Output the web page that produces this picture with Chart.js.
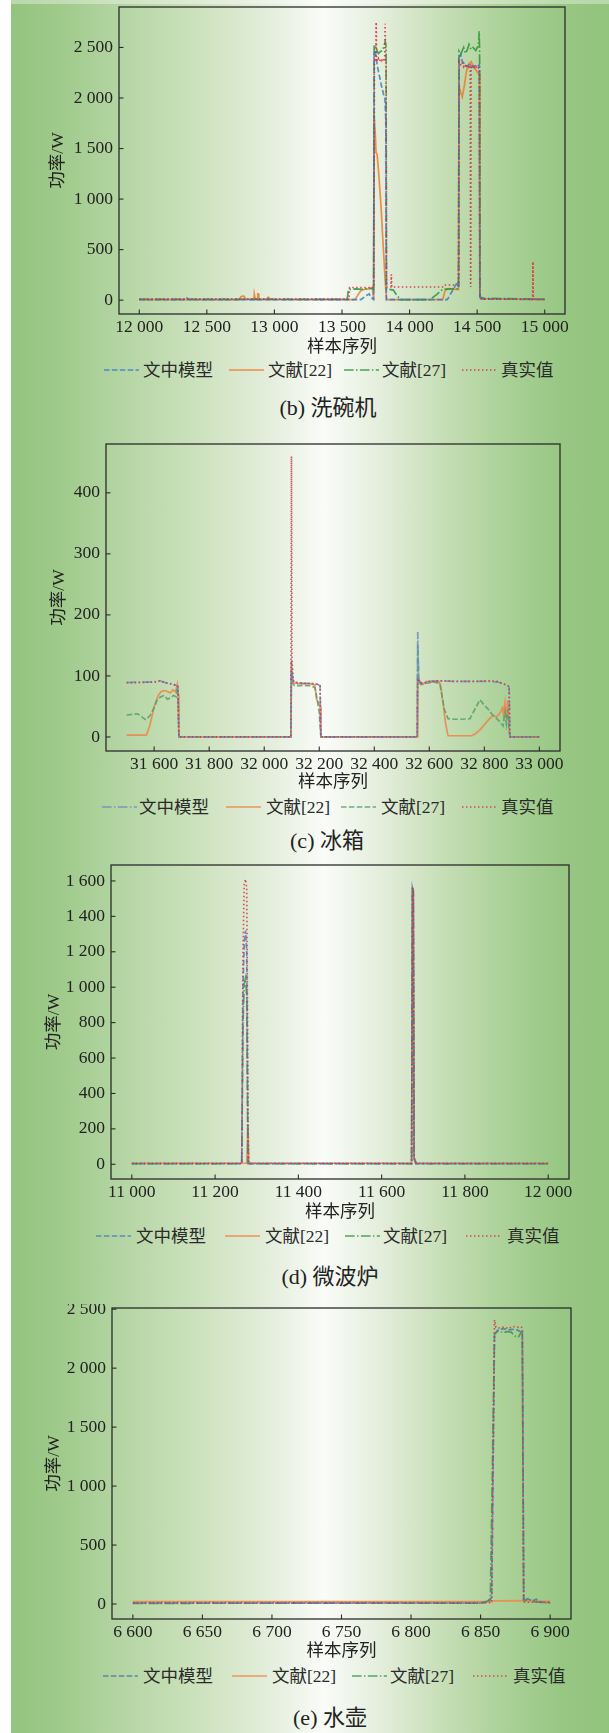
<!DOCTYPE html>
<html><head><meta charset="utf-8">
<script src="https://cdn.jsdelivr.net/npm/chart.js@4.4.1/dist/chart.umd.min.js"></script>
<style>
html,body{margin:0;padding:0;}
body{width:609px;height:1733px;position:relative;overflow:hidden;
background:linear-gradient(to right,#ffffff 0px,#ffffff 11px,#92c47e 11px,#9fca8b 60px,#b4d5a3 120px,#cde2be 200px,#e4eedc 270px,#fafcf8 324px,#e4eedc 380px,#c8dfb8 440px,#add29a 500px,#98c784 560px,#92c47d 609px);}
.topstrip{position:absolute;left:0;top:0;width:609px;height:4px;background:rgba(255,255,255,0.35)}
canvas{position:absolute;left:0;}
.lgi{position:absolute;font-family:"Liberation Serif","Noto Sans CJK SC",serif;font-size:17.5px;color:#2a2a2a;white-space:nowrap;line-height:20px;height:20px}
.sw{position:absolute;height:4px;width:35px;line-height:0}
.sw svg{display:block}
.cap{position:absolute;font-family:"Liberation Serif","Noto Sans CJK SC",serif;font-size:22px;color:#222;transform:translate(-50%,-50%);white-space:nowrap;line-height:26px}
</style></head>
<body>
<div class="topstrip"></div>
<script>
// ---------------- DATA ----------------
const seriesLabels = ['文中模型', '文献[22]', '文献[27]', '真实值'];
const xAxisTitle = '样本序列';
const yAxisTitle = '功率/W';

// (b) 洗碗机  [sample, W]
const dishXTicks = [12000, 12500, 13000, 13500, 14000, 14500, 15000];
const dishYTicks = [0, 500, 1000, 1500, 2000, 2500];
const dishModel = [[12000,6],[12330,6],[12350,22],[12372,6],[13640,6],[13675,40],[13700,62],[13716,25],[13734,6],[13738,2440],[13745,2470],[13752,2400],[13760,2330],[13770,2260],[13780,2200],[13790,2130],[13800,2080],[13810,2020],[13818,1990],[13824,1780],[13828,6],[14280,6],[14300,55],[14325,110],[14350,170],[14360,185],[14364,120],[14367,2400],[14378,2430],[14390,2360],[14405,2340],[14420,2310],[14440,2330],[14460,2300],[14480,2320],[14500,2310],[14516,2330],[14520,35],[14527,45],[14540,10],[15000,8]];
const dishRef22 = [[12000,5],[12740,5],[12752,35],[12772,42],[12790,10],[12848,8],[12851,62],[12856,62],[12859,8],[12874,8],[12877,62],[12882,62],[12885,8],[12940,8],[12955,30],[12972,8],[13595,5],[13615,45],[13640,95],[13670,108],[13700,112],[13725,125],[13734,5],[13738,1820],[13746,1650],[13752,1460],[13760,1440],[13770,1280],[13780,1100],[13790,900],[13800,650],[13810,420],[13820,180],[13830,5],[14245,5],[14262,90],[14285,115],[14330,110],[14362,105],[14366,2120],[14378,2060],[14390,2010],[14405,2120],[14420,2260],[14440,2340],[14455,2360],[14470,2320],[14490,2280],[14505,2250],[14516,2230],[14520,30],[14535,15],[15000,5]];
const dishRef27 = [[12000,8],[13538,8],[13548,105],[13600,112],[13650,108],[13700,118],[13734,110],[13738,2520],[13746,2530],[13755,2480],[13770,2440],[13785,2460],[13800,2470],[13812,2520],[13820,2560],[13826,2510],[13829,110],[13880,100],[13910,40],[13935,5],[14150,5],[14200,55],[14245,108],[14362,112],[14366,2460],[14378,2430],[14390,2470],[14400,2500],[14412,2440],[14425,2470],[14440,2530],[14455,2480],[14470,2500],[14490,2470],[14505,2510],[14512,2560],[14515,2660],[14518,2470],[14521,40],[14532,20],[15000,8]];
const dishTrue = [[12000,10],[13552,10],[13556,125],[13736,125],[13740,2370],[13746,2355],[13750,2385],[13753,2750],[13756,2380],[13762,2360],[13770,2390],[13778,2365],[13786,2385],[13794,2370],[13802,2395],[13810,2375],[13816,2360],[13819,2735],[13822,2380],[13826,2370],[13829,130],[13862,130],[13865,255],[13868,130],[14245,130],[14255,150],[14362,150],[14366,2360],[14372,2340],[14380,2320],[14390,2345],[14400,2310],[14410,2335],[14420,2300],[14430,2330],[14440,2305],[14449,2320],[14452,130],[14455,2315],[14462,2300],[14472,2325],[14482,2290],[14492,2310],[14502,2285],[14512,2300],[14517,2290],[14520,30],[14530,10],[14911,10],[14913,380],[14915,10],[15000,10]];

// (c) 冰箱
const fridgeXTicks = [31600, 31800, 32000, 32200, 32400, 32600, 32800, 33000];
const fridgeYTicks = [0, 100, 200, 300, 400];
const fridgeModel = [[31500,89],[31540,90],[31580,90],[31610,91],[31622,92],[31640,89],[31660,87],[31677,85],[31686,83],[31690,0],[32097,0],[32099,125],[32103,95],[32110,90],[32140,88],[32170,88],[32195,86],[32203,84],[32206,0],[32556,0],[32558,172],[32561,95],[32570,88],[32585,89],[32600,91],[32640,92],[32700,91],[32760,91],[32820,91],[32847,90],[32865,88],[32885,84],[32890,82],[32893,0],[33000,0]];
const fridgeRef22 = [[31500,3],[31572,3],[31585,20],[31600,50],[31615,68],[31625,74],[31635,76],[31647,75],[31658,72],[31668,77],[31678,74],[31684,86],[31687,70],[31690,0],[32097,0],[32099,120],[32103,92],[32110,88],[32140,87],[32170,87],[32184,85],[32190,62],[32198,55],[32203,50],[32206,0],[32556,0],[32558,97],[32565,88],[32575,86],[32590,91],[32610,90],[32635,91],[32641,85],[32650,55],[32660,20],[32668,2],[32755,2],[32770,6],[32785,12],[32800,20],[32815,28],[32830,35],[32845,33],[32858,40],[32866,48],[32870,35],[32875,55],[32880,30],[32885,60],[32889,25],[32893,0],[33000,0]];
const fridgeRef27 = [[31500,36],[31520,37],[31540,38],[31555,33],[31570,28],[31585,35],[31600,48],[31612,62],[31625,66],[31637,68],[31648,62],[31660,64],[31670,68],[31680,66],[31684,80],[31687,72],[31690,0],[32097,0],[32099,110],[32103,88],[32110,84],[32140,84],[32170,84],[32185,80],[32193,60],[32200,40],[32206,0],[32556,0],[32558,150],[32562,92],[32570,86],[32590,88],[32615,90],[32638,88],[32645,70],[32655,45],[32668,30],[32690,29],[32720,29],[32748,30],[32765,45],[32784,61],[32800,52],[32815,45],[32830,36],[32845,30],[32858,24],[32868,18],[32875,40],[32880,22],[32885,45],[32889,15],[32893,0],[33000,0]];
const fridgeTrue = [[31500,89],[31540,89],[31580,90],[31610,90],[31620,92],[31640,89],[31660,87],[31677,85],[31686,83],[31690,0],[32097,0],[32099,460],[32101,125],[32106,92],[32115,89],[32140,88],[32170,88],[32195,86],[32203,84],[32206,0],[32556,0],[32558,96],[32565,89],[32580,88],[32600,91],[32640,92],[32700,91],[32760,91],[32820,92],[32847,91],[32865,88],[32885,84],[32890,83],[32893,0],[33000,0]];

// (d) 微波炉
const microXTicks = [11000, 11200, 11400, 11600, 11800, 12000];
const microYTicks = [0, 200, 400, 600, 800, 1000, 1200, 1400, 1600];
const microModel = [[11000,4],[11264,4],[11267,1000],[11270,1250],[11273,1320],[11276,1200],[11279,4],[11672,4],[11674,1560],[11676,1540],[11678,30],[11683,4],[12000,4]];
const microRef22 = [[11000,6],[11276,6],[11279,220],[11281,6],[11672,6],[11674,1540],[11676,1530],[11678,35],[11684,6],[12000,6]];
const microRef27 = [[11000,3],[11264,3],[11267,800],[11270,1020],[11273,1050],[11276,950],[11279,3],[11672,3],[11674,1565],[11676,1550],[11678,30],[11683,3],[12000,3]];
const microTrue = [[11000,5],[11264,5],[11267,1200],[11270,1580],[11273,1610],[11276,1560],[11278,800],[11279,210],[11281,5],[11672,5],[11674,1560],[11676,1560],[11678,40],[11682,5],[12000,5]];

// (e) 水壶
const kettleXTicks = [6600, 6650, 6700, 6750, 6800, 6850, 6900];
const kettleYTicks = [0, 500, 1000, 1500, 2000, 2500];
const kettleModel = [[6600,8],[6850,8],[6855,25],[6858,55],[6860,2280],[6862,2320],[6866,2335],[6870,2325],[6874,2330],[6877,2320],[6880,2300],[6881,30],[6884,45],[6887,25],[6890,40],[6893,15],[6900,12]];
const kettleRef22 = [[6600,20],[6858,20],[6860,26],[6880,28],[6882,22],[6900,24]];
const kettleRef27 = [[6600,6],[6852,8],[6857,35],[6860,2290],[6863,2320],[6866,2300],[6869,2310],[6872,2305],[6875,2270],[6877,2260],[6879,2300],[6880,2310],[6881,30],[6885,38],[6889,18],[6900,10]];
const kettleTrue = [[6600,12],[6858,12],[6860,2410],[6861,2345],[6864,2340],[6867,2350],[6870,2335],[6873,2355],[6876,2345],[6879,2350],[6880,2340],[6881,15],[6900,15]];

const captions = ['(b) 洗碗机', '(c) 冰箱', '(d) 微波炉', '(e) 水壶'];

// ---------------- STYLE / LAYOUT ----------------
const DASH = {dashed:[5.5,2.4], dashdot:[9.6,2.4,1.5,2.4], dotted:[1.5,2.5], solid:[]};
const FONT = '"Liberation Serif", "Noto Sans CJK SC", serif';
const fmt = v => String(v).replace(/\B(?=(\d{3})+(?!\d))/g, ' ');

const panels = [
  {area:{l:119,r:565,t:7,b:314}, xr:[11850,15150], yr:[-137,2900], xt:dishXTicks, yt:dishYTicks, yTitleX:58, xTitleOff:33,
   legY:370, legSw:[104,229,344,462], legTx:[143,268,382,501], capX:328, capY:408, cap:captions[0],
   series:[{d:dishModel,c:'rgba(60,125,200,0.85)',s:'dashed'},{d:dishRef22,c:'rgba(240,122,45,0.85)',s:'solid'},{d:dishRef27,c:'rgba(40,150,55,0.85)',s:'dashdot'},{d:dishTrue,c:'rgba(222,40,60,0.85)',s:'dotted'}]},
  {area:{l:106,r:560,t:444,b:751}, xr:[31425,33075], yr:[-23,480], xt:fridgeXTicks, yt:fridgeYTicks, yTitleX:59, xTitleOff:31,
   legY:807, legSw:[102,226,341,462], legTx:[139,266,381,501], capX:327, capY:841, cap:captions[1],
   series:[{d:fridgeModel,c:'rgba(110,140,190,0.85)',s:'dashdot'},{d:fridgeRef22,c:'rgba(240,130,70,0.85)',s:'solid'},{d:fridgeRef27,c:'rgba(85,160,110,0.85)',s:'dashed'},{d:fridgeTrue,c:'rgba(205,55,80,0.85)',s:'dotted'}]},
  {area:{l:111,r:569,t:865,b:1179}, xr:[10950,12050], yr:[-83,1690], xt:microXTicks, yt:microYTicks, yTitleX:54, xTitleOff:33.5,
   legY:1236, legSw:[96,225,345,466], legTx:[136,265,383,507], capX:330, capY:1277, cap:captions[2],
   series:[{d:microModel,c:'rgba(70,120,195,0.8)',s:'dashed'},{d:microRef22,c:'rgba(240,130,60,0.85)',s:'solid'},{d:microRef27,c:'rgba(50,150,70,0.85)',s:'dashdot'},{d:microTrue,c:'rgba(222,50,70,0.85)',s:'dotted'}]},
  {area:{l:112,r:571,t:1308,b:1619}, xr:[6585,6915], yr:[-127,2510], xt:kettleXTicks, yt:kettleYTicks, yTitleX:54, xTitleOff:32.5,
   legY:1676, legSw:[103,232,352,473], legTx:[143,272,390,513], capX:330, capY:1718, cap:captions[3],
   series:[{d:kettleModel,c:'rgba(75,120,175,0.85)',s:'dashed'},{d:kettleRef22,c:'rgba(240,135,70,0.85)',s:'solid'},{d:kettleRef27,c:'rgba(60,150,75,0.85)',s:'dashdot'},{d:kettleTrue,c:'rgba(222,50,70,0.85)',s:'dotted'}]}
];

const framePlugin = {
  id:'frame',
  afterDraw(chart){
    const {ctx, chartArea:a, scales} = chart;
    ctx.save();
    ctx.strokeStyle = '#2b2b2b';
    ctx.lineWidth = 1.3;
    ctx.setLineDash([]);
    ctx.strokeRect(a.left, a.top, a.right - a.left, a.bottom - a.top);
    ctx.lineWidth = 1.1;
    scales.x.ticks.forEach(t => {
      const p = scales.x.getPixelForValue(t.value);
      ctx.beginPath(); ctx.moveTo(p, a.bottom); ctx.lineTo(p, a.bottom - 4.5); ctx.stroke();
    });
    scales.y.ticks.forEach(t => {
      const p = scales.y.getPixelForValue(t.value);
      ctx.beginPath(); ctx.moveTo(a.left, p); ctx.lineTo(a.left + 4.5, p); ctx.stroke();
    });
    ctx.restore();
  }
};

Chart.defaults.color = '#222';

panels.forEach(p => {
  const padTop = 4, xh = 46;
  const cv = document.createElement('canvas');
  const H = (p.area.b - p.area.t) + padTop + xh;
  cv.width = 609; cv.height = H;
  cv.style.width = '609px'; cv.style.height = H + 'px';
  cv.style.top = (p.area.t - padTop) + 'px';
  document.body.appendChild(cv);
  const padLeft = p.yTitleX - 10.5;
  const orders = [1, 3, 2, 0];
  new Chart(cv.getContext('2d'), {
    type:'line',
    data:{datasets: p.series.map((s, i) => ({
      label: seriesLabels[i],
      data: s.d.map(([x, y]) => ({x, y})),
      borderColor: s.c, backgroundColor: s.c,
      borderDash: DASH[s.s], borderWidth: 1.7,
      pointRadius: 0, tension: 0, fill: false, order: orders[i]
    }))},
    options:{
      responsive:false, animation:false, devicePixelRatio:1,
      layout:{padding:{left:padLeft, right:609 - p.area.r, top:padTop, bottom:0}},
      plugins:{legend:{display:false}, tooltip:{enabled:false}},
      scales:{
        x:{type:'linear', min:p.xr[0], max:p.xr[1],
          grid:{display:false, drawTicks:false}, border:{display:false},
          afterBuildTicks: s => { s.ticks = p.xt.map(v => ({value:v})); },
          ticks:{autoSkip:false, maxRotation:0, minRotation:0, padding:2.5, color:'#222', font:{family:FONT, size:17.5}, callback: v => fmt(v)},
          title:{display:true, text:xAxisTitle, color:'#222', font:{family:FONT, size:17.5}, padding:{top:0, bottom:35.5 - p.xTitleOff}},
          afterFit: s => { s.height = xh; s.paddingLeft = 0; s.paddingRight = 0; }
        },
        y:{type:'linear', min:p.yr[0], max:p.yr[1],
          grid:{display:false, drawTicks:false}, border:{display:false},
          afterBuildTicks: s => { s.ticks = p.yt.map(v => ({value:v})); },
          ticks:{autoSkip:false, padding:6, color:'#222', font:{family:FONT, size:17.5}, callback: v => fmt(v)},
          title:{display:true, text:yAxisTitle, color:'#222', font:{family:FONT, size:17.5}, padding:{top:0, bottom:0}},
          afterFit: s => { s.width = p.area.l - padLeft; s.paddingTop = 0; s.paddingBottom = 0; }
        }
      }
    },
    plugins:[framePlugin]
  });

  // legend (HTML, from the series definitions)
  p.series.forEach((s, i) => {
    const sw = document.createElement('div');
    sw.className = 'sw';
    sw.style.left = p.legSw[i] + 'px';
    sw.style.top = (p.legY - 2) + 'px';
    sw.innerHTML = '<svg width="35" height="4" viewBox="0 0 35 4"><line x1="0" y1="2" x2="35" y2="2" stroke="' + s.c + '" stroke-width="1.7" stroke-dasharray="' + DASH[s.s].join(' ') + '"/></svg>';
    document.body.appendChild(sw);
    const tx = document.createElement('div');
    tx.className = 'lgi';
    tx.style.left = p.legTx[i] + 'px';
    tx.style.top = (p.legY - 10) + 'px';
    tx.textContent = seriesLabels[i];
    document.body.appendChild(tx);
  });
  const cap = document.createElement('div');
  cap.className = 'cap';
  cap.style.left = p.capX + 'px';
  cap.style.top = p.capY + 'px';
  cap.textContent = p.cap;
  document.body.appendChild(cap);
});
</script>
</body></html>
